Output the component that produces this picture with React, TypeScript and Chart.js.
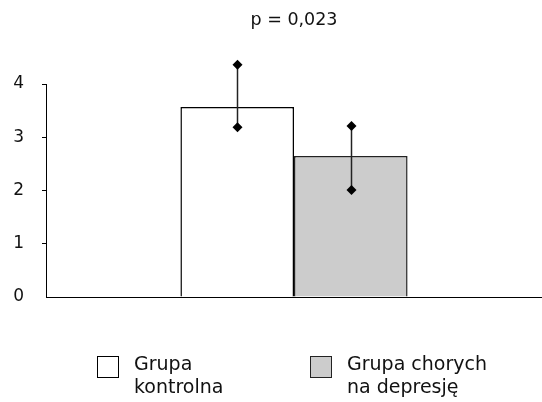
import React, { useEffect, useRef } from "react";
import { Chart, registerables } from "chart.js";

Chart.register(...registerables);

const categories = [""];
const seriesNames = ["Grupa kontrolna", "Grupa chorych na depresję"];
const legendLines = [["Grupa", "kontrolna"], ["Grupa chorych", "na depresję"]];
const meanValues = [3.57, 2.65];
const errLow = [3.19, 2.01];
const errHigh = [4.36, 3.21];
const yTicks = [0, 1, 2, 3, 4];
const titleText = "p = 0,023";

const fills = ["#ffffff", "#cccccc"];
const borders = ["#000000", "#222222"];

const errorBarPlugin = {
  id: "errorBars",
  afterDatasetsDraw(chart: any) {
    const ctx = chart.ctx;
    const y = chart.scales.y;
    ctx.save();
    for (let i = 0; i < chart.data.datasets.length; i++) {
      const meta = chart.getDatasetMeta(i);
      const bar = meta.data[0];
      if (!bar) continue;
      const x = Math.round(bar.x) + 0.5;
      const yt = y.getPixelForValue(errHigh[i]);
      const yb = y.getPixelForValue(errLow[i]);
      ctx.strokeStyle = "#222222";
      ctx.lineWidth = 1.5;
      ctx.beginPath();
      ctx.moveTo(x, yt);
      ctx.lineTo(x, yb);
      ctx.stroke();
      ctx.fillStyle = "#000000";
      const r = 5;
      for (const py of [yt, yb]) {
        ctx.beginPath();
        ctx.moveTo(x, py - r);
        ctx.lineTo(x + r, py);
        ctx.lineTo(x, py + r);
        ctx.lineTo(x - r, py);
        ctx.closePath();
        ctx.fill();
      }
    }
    ctx.restore();
  },
};

const legendPlugin = {
  id: "customLegend",
  afterDraw(chart: any) {
    const ctx = chart.ctx;
    const area = chart.chartArea;
    const boxX = [97, 310];
    const top = area.bottom + 59;
    ctx.save();
    ctx.font = "19px 'DejaVu Sans'";
    ctx.textBaseline = "alphabetic";
    ctx.textAlign = "left";
    for (let i = 0; i < legendLines.length; i++) {
      const ds = chart.data.datasets[i];
      ctx.fillStyle = ds.backgroundColor;
      ctx.fillRect(boxX[i] + 0.5, top + 0.5, 21, 21);
      ctx.strokeStyle = ds.borderColor;
      ctx.lineWidth = 1;
      ctx.strokeRect(boxX[i] + 0.5, top + 0.5, 21, 21);
      ctx.fillStyle = "#111111";
      legendLines[i].forEach((line, j) => {
        ctx.fillText(line, boxX[i] + 37, top + 14 + j * 23);
      });
    }
    ctx.restore();
  },
};

export default function App() {
  const canvasRef = useRef<HTMLCanvasElement | null>(null);

  useEffect(() => {
    if (!canvasRef.current) return;
    Chart.defaults.font.family = "'DejaVu Sans'";
    const chart = new Chart(canvasRef.current, {
      type: "bar",
      data: {
        labels: categories,
        datasets: seriesNames.map((name, i) => ({
          label: name,
          data: [meanValues[i]],
          backgroundColor: fills[i],
          borderColor: borders[i],
          borderWidth: 1.5,
          categoryPercentage: 0.458,
          barPercentage: 1,
        })),
      },
      options: {
        responsive: false,
        animation: false,
        layout: { padding: { left: 13, right: 0, top: 0, bottom: 97 } },
        plugins: {
          legend: { display: false },
          tooltip: { enabled: false },
          title: {
            display: true,
            text: titleText,
            fullSize: false,
            color: "#111111",
            font: { size: 17.5, weight: "normal" },
            padding: { top: 10, bottom: 53 },
          },
        },
        scales: {
          x: {
            grid: { display: false },
            ticks: { display: false },
            border: { display: true, color: "#000000", width: 1 },
          },
          y: {
            min: 0,
            max: 4,
            afterBuildTicks: (scale: any) => {
              scale.ticks = yTicks.map((v) => ({ value: v }));
            },
            afterFit: (scale: any) => {
              scale.width = 33;
            },
            ticks: {
              color: "#111111",
              font: { size: 17 },
              padding: 18,
            },
            grid: {
              display: true,
              drawOnChartArea: false,
              drawTicks: true,
              tickLength: 4,
              color: (c: any) => (c.tick && c.tick.value === 0 ? "rgba(0,0,0,0)" : "#000000"),
            },
            border: { display: true, color: "#000000", width: 1 },
          },
        },
      },
      plugins: [errorBarPlugin, legendPlugin],
    });
    return () => chart.destroy();
  }, []);

  return (
    <div style={{ position: "absolute", left: 0, top: 0, width: 542, height: 402 }}>
      <canvas ref={canvasRef} width={542} height={402} style={{ display: "block", width: 542, height: 402 }} />
    </div>
  );
}
